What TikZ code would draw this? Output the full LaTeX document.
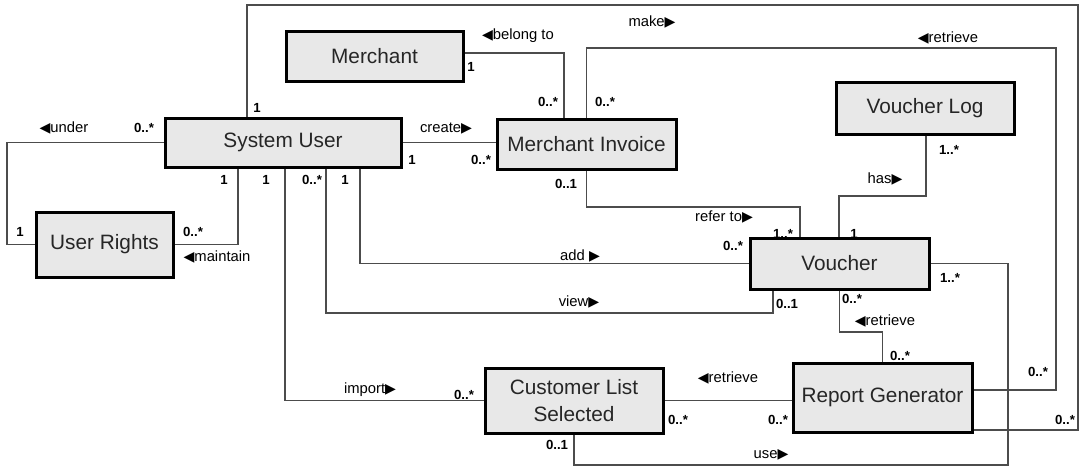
\documentclass[tikz,border=0pt]{standalone}
\usepackage{fontspec}
\setmainfont{Liberation Sans}
\newfontfamily\symfont{DejaVu Sans}
\usepackage{graphicx}
\newcommand\rtri{{\symfont\scalebox{0.95}{▶}}}
\newcommand\ltri{{\symfont\scalebox{0.95}{◀}}}
\definecolor{boxgray}{HTML}{E8E8E8}
\begin{document}
\begin{tikzpicture}[x=0.5pt,y=-0.5pt,
  cls/.style={draw=black, line width=1.5pt, fill=boxgray, inner sep=0pt,
    font=\fontsize{10.4}{13.5}\selectfont, text=black!85, align=center},
  conn/.style={draw=black!70, line width=0.7pt},
  lbl/.style={font=\fontsize{7.4}{9}\selectfont, inner sep=0pt},
  mult/.style={font=\bfseries\fontsize{6.6}{8}\selectfont, inner sep=0pt}]
\useasboundingbox (0,0) rectangle (1080,467);

% classes
\node[cls, minimum width=88.5pt, minimum height=25pt] (me) at (374.5,56) {Merchant};
\node[cls, minimum width=118pt, minimum height=24.5pt] (su) at (283,142.5) {System User};
\node[cls, minimum width=89.5pt, minimum height=25pt] (mi) at (586.5,144) {Merchant Invoice};
\node[cls, minimum width=89pt, minimum height=26pt] (vl) at (925,108) {Voucher Log};
\node[cls, minimum width=68.5pt, minimum height=32.5pt] (ur) at (104.5,244.5) {User Rights};
\node[cls, minimum width=89.5pt, minimum height=25.5pt] (vo) at (839.5,263.5) {Voucher};
\node[cls, minimum width=89pt, minimum height=32.5pt] (cl) at (574,400.5) {Customer List\\Selected};
\node[cls, minimum width=89.5pt, minimum height=34.5pt] (rg) at (882.5,397.5) {Report Generator};

% bend coordinates
\coordinate (c-make1) at (247,5);
\coordinate (c-make2) at (1078,430);
\coordinate (c-ret1) at (1056,48);
\coordinate (c-ret2) at (1056,390);
\coordinate (c-bel) at (564,53);
\coordinate (c-und) at (7,142.5);
\coordinate (c-mnt) at (238,244);
\coordinate (c-imp) at (285,400);
\coordinate (c-view1) at (326,313);
\coordinate (c-view2) at (773,313);
\coordinate (c-add) at (360,265);
\coordinate (c-ref) at (800,207);
\coordinate (c-has1) at (926,196);
\coordinate (c-has2) at (839,196);
\coordinate (c-rvr) at (860,332);
\coordinate (c-use1) at (1008,465);

% connectors
\draw[conn] (su.north -| c-make1) -- (c-make1) -| (c-make2) -- (rg.east |- c-make2);
\draw[conn] (mi.north) |- (c-ret1) -- (c-ret2) -- (rg.east |- c-ret2);
\draw[conn] (me.east |- c-bel) -| (mi.north -| c-bel);
\draw[conn] (su.east) -- (su.east -| mi.west);
\draw[conn] (su.west) -| (ur.west -| c-und) -- (ur.west);
\draw[conn] (ur.east) -| (su.south -| c-mnt);
\draw[conn] (su.south -| c-imp) |- (cl.west);
\draw[conn] (su.south -| c-view1) -- (c-view1) -- (c-view2) -- (vo.south -| c-view2);
\draw[conn] (su.south -| c-add) |- (vo.west);
\draw[conn] (mi.south) |- (c-ref) -- (vo.north -| c-ref);
\draw[conn] (vl.south -| c-has1) -- (c-has1) -- (c-has2) -- (vo.north -| c-has2);
\draw[conn] (vo.south) |- (c-rvr) -| (rg.north);
\draw[conn] (cl.east) -- (cl.east -| rg.west);
\draw[conn] (cl.south) |- (c-use1) |- (vo.east);

% association labels
\node[lbl] (l-make) at (652,22) {make\rtri};
\node[lbl] (l-ret1) at (948,38) {\ltri retrieve};
\node[lbl] (l-bel) at (518,36) {\ltri belong to};
\node[lbl] (l-create) at (446,129) {create\rtri};
\node[lbl] (l-under) at (64,128) {\ltri under};
\node[lbl] (l-mnt) at (217,257) {\ltri maintain};
\node[lbl] (l-imp) at (370,390) {import\rtri};
\node[lbl] (l-add) at (580,256) {add \rtri};
\node[lbl] (l-view) at (579,302) {view\rtri};
\node[lbl] (l-ref) at (724,217) {refer to\rtri};
\node[lbl] (l-has) at (885,179) {has\rtri};
\node[lbl] (l-rvr) at (885,321) {\ltri retrieve};
\node[lbl] (l-crr) at (728,378) {\ltri retrieve};
\node[lbl] (l-use) at (771,455) {use\rtri};

% multiplicities
\node[mult] (m1) at (471,67) {1};
\node[mult] (m2) at (548,102) {0..*};
\node[mult] (m3) at (605,102) {0..*};
\node[mult] (m4) at (257,108) {1};
\node[mult] (m5) at (412,160) {1};
\node[mult] (m6) at (481,160) {0..*};
\node[mult] (m7) at (144,128) {0..*};
\node[mult] (m8) at (20,232) {1};
\node[mult] (m9) at (193,232) {0..*};
\node[mult] (m10) at (224,180) {1};
\node[mult] (m11) at (266,180) {1};
\node[mult] (m12) at (312,180) {0..*};
\node[mult] (m13) at (345,180) {1};
\node[mult] (m14) at (464,395) {0..*};
\node[mult] (m15) at (733,246) {0..*};
\node[mult] (m16) at (787,304) {0..1};
\node[mult] (m17) at (852,299) {0..*};
\node[mult] (m18) at (900,356) {0..*};
\node[mult] (m19) at (950,278) {1..*};
\node[mult] (m20) at (678,420) {0..*};
\node[mult] (m21) at (778,420) {0..*};
\node[mult] (m22) at (1038,372) {0..*};
\node[mult] (m23) at (1065,420) {0..*};
\node[mult] (m24) at (557,445) {0..1};
\node[mult] (m25) at (783,234) {1..*};
\node[mult] (m26) at (854,234) {1};
\node[mult] (m27) at (949,150) {1..*};
\node[mult] (m28) at (566,184) {0..1};
\end{tikzpicture}
\end{document}
